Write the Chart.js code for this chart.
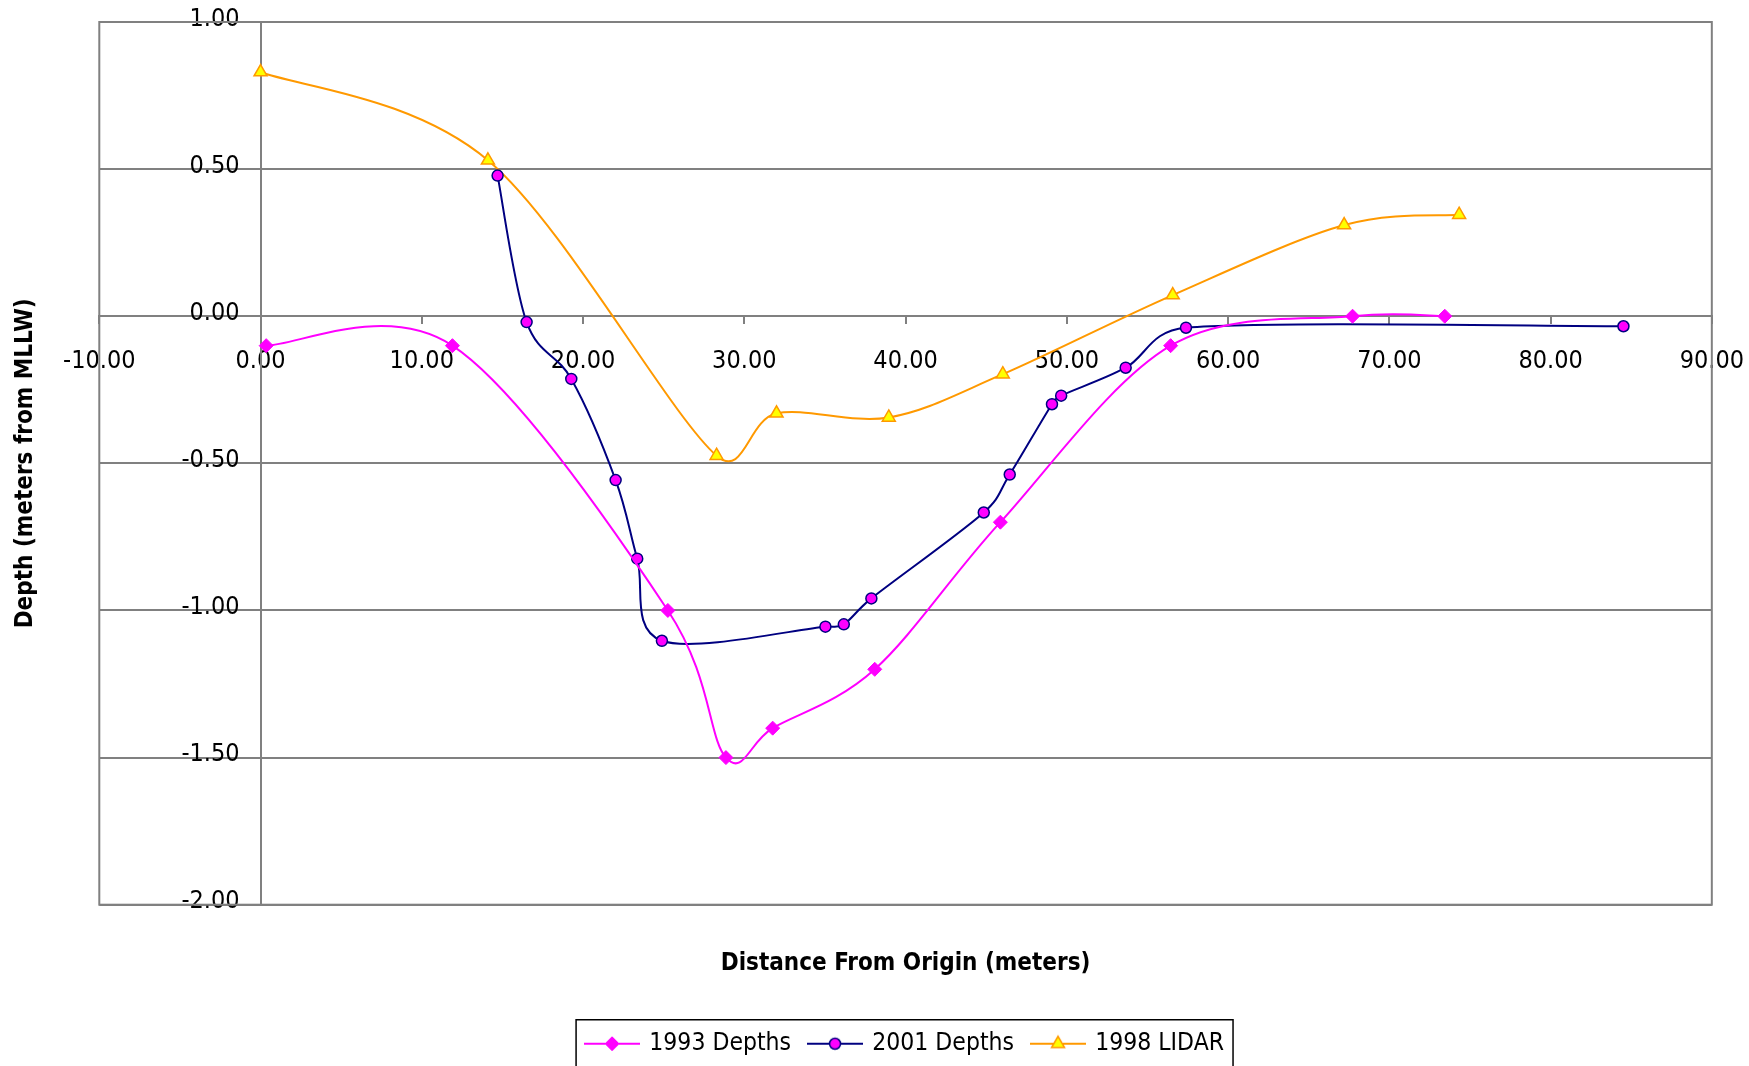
<!DOCTYPE html>
<html>
<head>
<meta charset="utf-8">
<title>Depth profile</title>
<script src="https://cdn.jsdelivr.net/npm/chart.js@4/dist/chart.umd.min.js"></script>
<style>
  html, body { margin: 0; padding: 0; background: #fff; }
  canvas { display: block; }
</style>
</head>
<body>
<canvas id="profileChart" width="1749" height="1066"></canvas>
<script>
// survey series: distance from origin (m) and depth vs MLLW (m)
const dist1993 = [0.35, 11.9, 25.26, 28.86, 31.76, 38.09, 45.88, 56.44, 67.72, 73.44];
const depth1993 = [-0.10, -0.10, -1.00, -1.50, -1.40, -1.20, -0.70, -0.10, 0.00, 0.00];

const dist2001 = [14.7, 16.5, 19.27, 22.02, 23.36, 24.89, 35.03, 36.17, 37.88, 44.85, 46.46, 49.08, 49.65, 53.65, 57.39, 84.52];
const depth2001 = [0.478, -0.02, -0.213, -0.557, -0.824, -1.103, -1.055, -1.047, -0.959, -0.667, -0.538, -0.299, -0.27, -0.175, -0.039, -0.034];

const distLidar = [0.0, 14.1, 28.28, 32.0, 38.96, 46.03, 56.57, 67.2, 74.33];
const depthLidar = [0.83, 0.53, -0.474, -0.33, -0.344, -0.197, 0.072, 0.31, 0.345];

const seriesNames = ["1993 Depths", "2001 Depths", "1998 LIDAR"];

const xTitle = "Distance From Origin (meters)";
const yTitle = "Depth (meters from MLLW)";

const FONT = '"DejaVu Sans Condensed", "DejaVu Sans", sans-serif';
const GRID = "#808080";

function toPoints(xs, ys) {
  return xs.map((x, i) => ({ x: x, y: ys[i] }));
}

const styles = [
  { line: "#FF00FF", fill: "#FF00FF", edge: "#FF00FF", shape: "rectRot", r: 7, bw: 1 },
  { line: "#000080", fill: "#FF00FF", edge: "#000080", shape: "circle", r: 5.5, bw: 1.5 },
  { line: "#FF9900", fill: "#FFFF00", edge: "#FF9900", shape: "triangle", r: 7.5, bw: 1.5 },
];

// little line+marker swatches for the legend
function makeIcon(s) {
  const c = document.createElement("canvas");
  c.width = 56;
  c.height = 20;
  const g = c.getContext("2d");
  g.strokeStyle = s.line;
  g.lineWidth = 2;
  g.beginPath();
  g.moveTo(0, 10);
  g.lineTo(56, 10);
  g.stroke();
  g.fillStyle = s.fill;
  g.strokeStyle = s.edge;
  g.lineWidth = s.bw;
  Chart.helpers.drawPoint(g, { pointStyle: s.shape, radius: s.r, rotation: 0, borderWidth: s.bw }, 28, 10);
  return c;
}
const icons = styles.map(makeIcon);

function makeDataset(i, pts) {
  const s = styles[i];
  return {
    label: seriesNames[i],
    data: pts,
    borderColor: s.line,
    borderWidth: 2,
    tension: 0.35,
    fill: false,
    pointStyle: s.shape,
    pointRadius: s.r,
    pointBackgroundColor: s.fill,
    pointBorderColor: s.edge,
    pointBorderWidth: s.bw,
  };
}

// spreadsheet-style smoothing: tangent (next - prev) / 6,
// never longer than half of the segment it bends
function clampVec(dx, dy, maxLen) {
  const len = Math.hypot(dx, dy);
  if (len > maxLen && len > 0) {
    const k = maxLen / len;
    return [dx * k, dy * k];
  }
  return [dx, dy];
}

const smoothPlugin = {
  id: "smooth",
  afterDatasetsUpdate(chart) {
    chart.data.datasets.forEach((ds, di) => {
      const meta = chart.getDatasetMeta(di);
      const line = meta.dataset;
      const pts = meta.data;
      if (!line || !pts.length) return;
      line.updateControlPoints(chart.chartArea, "x");
      const tan = pts.map((p, i) => {
        const prev = pts[i - 1] || p;
        const next = pts[i + 1] || p;
        return [(next.x - prev.x) / 6, (next.y - prev.y) / 6];
      });
      pts.forEach((p) => {
        p.cp1x = p.x; p.cp1y = p.y;
        p.cp2x = p.x; p.cp2y = p.y;
      });
      for (let i = 0; i < pts.length - 1; i++) {
        const a = pts[i];
        const b = pts[i + 1];
        const half = Math.hypot(b.x - a.x, b.y - a.y) / 2;
        const out = clampVec(tan[i][0], tan[i][1], half);
        const inc = clampVec(tan[i + 1][0], tan[i + 1][1], half);
        a.cp2x = a.x + out[0];
        a.cp2y = a.y + out[1];
        b.cp1x = b.x - inc[0];
        b.cp1y = b.y - inc[1];
      }
    });
  },
};

// frame round the plot and round the legend
const framePlugin = {
  id: "frame",
  beforeDatasetsDraw(chart) {
    const a = chart.chartArea;
    const ctx = chart.ctx;
    ctx.save();
    ctx.strokeStyle = GRID;
    ctx.lineWidth = 2;
    ctx.strokeRect(a.left, a.top, a.right - a.left, a.bottom - a.top);
    ctx.restore();
  },
  afterDraw(chart) {
    const lg = chart.legend;
    const boxes = lg.legendHitBoxes;
    if (!boxes || !boxes.length) return;
    const first = boxes[0];
    const last = boxes[boxes.length - 1];
    const left = first.left - 11;
    const right = last.left + last.width + 9;
    const top = first.top + first.height / 2 - 24;
    const ctx = chart.ctx;
    ctx.save();
    ctx.strokeStyle = "#000";
    ctx.lineWidth = 1.5;
    ctx.strokeRect(left, top, right - left, chart.height);
    ctx.restore();
  },
};

const tickFont = { family: FONT, size: 25 };

new Chart(document.getElementById("profileChart"), {
  type: "line",
  data: {
    datasets: [
      makeDataset(0, toPoints(dist1993, depth1993)),
      makeDataset(1, toPoints(dist2001, depth2001)),
      makeDataset(2, toPoints(distLidar, depthLidar)),
    ],
  },
  options: {
    responsive: false,
    animation: false,
    layout: { padding: { top: 22, right: 37, bottom: 0, left: 0 } },
    scales: {
      x: {
        type: "linear",
        min: -10,
        max: 90,
        position: { y: 0 },
        ticks: {
          stepSize: 10,
          color: "#000",
          font: { family: FONT, size: 25, lineHeight: 2.65 },
          padding: 5,
          maxRotation: 0,
          callback: (v) => v.toFixed(2),
        },
        grid: { drawOnChartArea: false, drawTicks: true, tickLength: 7, color: GRID, lineWidth: 2 },
        border: { display: true, color: GRID, width: 2 },
      },
      // axis line, gridlines and tick marks crossing at x = 0
      y: {
        type: "linear",
        min: -2,
        max: 1,
        position: { x: 0 },
        ticks: { stepSize: 0.5, display: false },
        grid: { drawOnChartArea: true, drawTicks: true, tickLength: 7, color: GRID, lineWidth: 2 },
        border: { display: true, color: GRID, width: 2 },
      },
      // value labels, set a little left of the axis line
      yLabels: {
        type: "linear",
        min: -2,
        max: 1,
        position: { x: -1.3 },
        ticks: {
          stepSize: 0.5,
          color: "#000",
          font: tickFont,
          padding: 0,
          labelOffset: -3,
          callback: (v) => v.toFixed(2),
        },
        grid: { display: false },
        border: { display: false },
      },
      yTitle: {
        type: "linear",
        position: "left",
        display: true,
        ticks: { display: false },
        grid: { display: false, drawTicks: false },
        border: { display: false },
        title: {
          display: true,
          text: yTitle,
          color: "#000",
          font: { family: FONT, size: 24, weight: "bold" },
          padding: { top: 11, bottom: 59.5 },
        },
      },
      xTitle: {
        type: "linear",
        position: "bottom",
        display: true,
        ticks: { display: false },
        grid: { display: false, drawTicks: false },
        border: { display: false },
        title: {
          display: true,
          text: xTitle,
          color: "#000",
          font: { family: FONT, size: 24, weight: "bold" },
          padding: { top: 45, bottom: 34 },
        },
      },
    },
    plugins: {
      tooltip: { enabled: false },
      legend: {
        position: "bottom",
        fullSize: false,
        labels: {
          usePointStyle: true,
          pointStyleWidth: 50,
          padding: 19,
          color: "#000",
          font: { family: FONT, size: 24.5 },
          generateLabels: (chart) =>
            Chart.defaults.plugins.legend.labels.generateLabels(chart).map((item, i) => {
              item.pointStyle = icons[i];
              return item;
            }),
        },
      },
    },
  },
  plugins: [smoothPlugin, framePlugin],
});
</script>
</body>
</html>
